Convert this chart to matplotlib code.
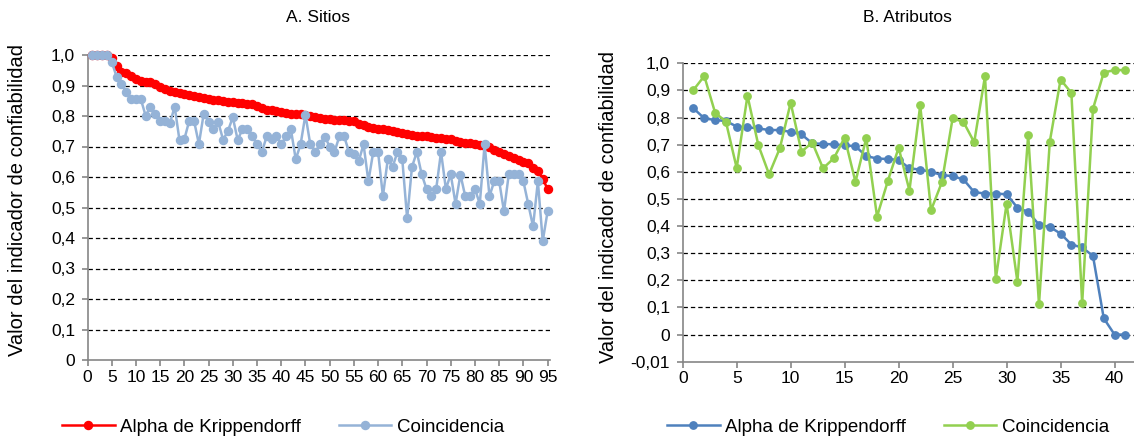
import numpy as np
import matplotlib
matplotlib.use('Agg')
import matplotlib.pyplot as plt
from matplotlib.ticker import FixedLocator, FixedFormatter

plt.rcParams['font.family'] = ['Liberation Sans', 'DejaVu Sans']

# A. Sitios (95 sitios)
sitios_alpha = [
    1.0, 1.0, 1.0, 1.0, 0.99, 0.965, 0.945, 0.94, 0.93, 0.92,
    0.915, 0.913, 0.91, 0.905, 0.895, 0.888, 0.883, 0.878, 0.875, 0.872,
    0.868, 0.865, 0.862, 0.859, 0.856, 0.853, 0.851, 0.849, 0.847, 0.845,
    0.843, 0.842, 0.840, 0.839, 0.834, 0.826, 0.821, 0.819, 0.817, 0.814,
    0.811, 0.808, 0.806, 0.805, 0.802, 0.799, 0.797, 0.794, 0.791, 0.789,
    0.788, 0.787, 0.786, 0.785, 0.783, 0.774, 0.769, 0.765, 0.762, 0.759,
    0.757, 0.754, 0.751, 0.748, 0.745, 0.742, 0.739, 0.736, 0.735, 0.733,
    0.732, 0.729, 0.727, 0.725, 0.723, 0.719, 0.716, 0.713, 0.710, 0.707,
    0.704, 0.702, 0.697, 0.687, 0.682, 0.676, 0.668, 0.662, 0.655, 0.650,
    0.645, 0.630, 0.620, 0.595, 0.560,
]
sitios_coinc = [
    1.0, 1.0, 1.0, 1.0, 0.978, 0.929, 0.904, 0.880, 0.856, 0.856,
    0.856, 0.801, 0.830, 0.807, 0.782, 0.782, 0.776, 0.830, 0.720, 0.724,
    0.784, 0.784, 0.708, 0.808, 0.781, 0.756, 0.780, 0.722, 0.751, 0.796,
    0.722, 0.756, 0.756, 0.733, 0.707, 0.682, 0.733, 0.725, 0.733, 0.707,
    0.733, 0.756, 0.658, 0.707, 0.804, 0.707, 0.682, 0.707, 0.732, 0.700,
    0.682, 0.733, 0.733, 0.682, 0.677, 0.652, 0.707, 0.586, 0.682, 0.682,
    0.537, 0.658, 0.633, 0.682, 0.658, 0.464, 0.633, 0.682, 0.609, 0.561,
    0.537, 0.561, 0.682, 0.561, 0.609, 0.512, 0.608, 0.537, 0.537, 0.561,
    0.512, 0.707, 0.537, 0.587, 0.587, 0.487, 0.611, 0.611, 0.611, 0.586,
    0.512, 0.438, 0.586, 0.390, 0.487,
]

# B. Atributos (41 atributos)
atrib_alpha = [
    0.834, 0.797, 0.791, 0.787, 0.767, 0.764, 0.760, 0.754, 0.754, 0.747,
    0.738, 0.705, 0.703, 0.701, 0.698, 0.694, 0.658, 0.649, 0.647, 0.644,
    0.613, 0.608, 0.600, 0.588, 0.584, 0.572, 0.525, 0.520, 0.520, 0.517,
    0.468, 0.452, 0.405, 0.397, 0.372, 0.332, 0.321, 0.290, 0.060, 0.0,
    0.0,
]
atrib_coinc = [
    0.902, 0.953, 0.818, 0.785, 0.614, 0.881, 0.699, 0.591, 0.687, 0.855,
    0.674, 0.708, 0.613, 0.650, 0.726, 0.563, 0.724, 0.435, 0.566, 0.689,
    0.531, 0.845, 0.458, 0.561, 0.797, 0.784, 0.709, 0.953, 0.205, 0.483,
    0.195, 0.736, 0.111, 0.711, 0.940, 0.891, 0.115, 0.832, 0.966, 0.975,
    0.975,
]

left_yticks = [0, 0.1, 0.2, 0.3, 0.4, 0.5, 0.6, 0.7, 0.8, 0.9, 1.0]
left_ylabels = ['0', '0,1', '0,2', '0,3', '0,4', '0,5', '0,6', '0,7', '0,8', '0,9', '1,0']
right_yticks = [-0.1, 0, 0.1, 0.2, 0.3, 0.4, 0.5, 0.6, 0.7, 0.8, 0.9, 1.0]
right_ylabels = ['-0,01', '0', '0,1', '0,2', '0,3', '0,4', '0,5', '0,6', '0,7', '0,8', '0,9', '1,0']

W, H = 1134, 442
fig = plt.figure(figsize=(W / 100, H / 100), dpi=100)


def px_axes(x0, y_top, x1, y_bot):
    return fig.add_axes([x0 / W, 1 - y_bot / H, (x1 - x0) / W, (y_bot - y_top) / H])


def style_axes(ax, yticks, ylabels):
    for s in ['top', 'right']:
        ax.spines[s].set_visible(False)
    for s in ['left', 'bottom']:
        ax.spines[s].set_color('#868686')
        ax.spines[s].set_linewidth(1.2)
    ax.yaxis.set_major_locator(FixedLocator(yticks))
    ax.yaxis.set_major_formatter(FixedFormatter(ylabels))
    ax.tick_params(axis='both', labelsize=12.5, colors='#868686', labelcolor='black',
                   length=4, width=1.2, direction='out')
    ax.tick_params(axis='y', pad=5)
    ax.tick_params(axis='x', pad=3)
    for y in yticks[1:]:
        ax.axhline(y, color='black', lw=0.9, ls=(0, (3.5, 2.4)), zorder=1)


leg_kw = dict(loc='center', ncol=2, frameon=False, fontsize=13.5, handlelength=2.8,
              handletextpad=0.3, columnspacing=2.0, numpoints=1)

# ---- A. Sitios
ax1 = px_axes(87.5, 55, 550, 360)
x1 = np.arange(1, len(sitios_alpha) + 1)
ax1.plot(x1, sitios_alpha, color='#FF0000', lw=1.8, marker='o', ms=5.8,
         label='Alpha de Krippendorff', zorder=3, clip_on=False)
ax1.plot(x1, sitios_coinc, color='#95B3D7', lw=1.8, marker='o', ms=5.8,
         label='Coincidencia', zorder=4, clip_on=False)
ax1.set_xlim(0, 95.5)
ax1.set_ylim(0, 1.0)
ax1.set_xticks(np.arange(0, 96, 5))
style_axes(ax1, left_yticks, left_ylabels)
ax1.legend(bbox_to_anchor=(283 / W, 1 - 427 / H), bbox_transform=fig.transFigure, **leg_kw)

# ---- B. Atributos
ax2 = px_axes(682.7, 63.3, 1134, 361.7)
x2 = np.arange(1, len(atrib_alpha) + 1)
ax2.plot(x2, atrib_alpha, color='#4F81BD', lw=1.8, marker='o', ms=5.3,
         label='Alpha de Krippendorff', zorder=3, clip_on=False)
ax2.plot(x2, atrib_coinc, color='#92D050', lw=1.8, marker='o', ms=5.3,
         label='Coincidencia', zorder=4, clip_on=False)
ax2.set_xlim(0, 41.8)
ax2.set_ylim(-0.1, 1.0)
ax2.set_xticks(np.arange(0, 41, 5))
style_axes(ax2, right_yticks, right_ylabels)
ax2.legend(bbox_to_anchor=(888 / W, 1 - 427 / H), bbox_transform=fig.transFigure, **leg_kw)

# titles and axis labels
fig.text(318 / W, 1 - 18 / H, 'A. Sitios', ha='center', va='center', fontsize=12.5)
fig.text(907 / W, 1 - 18 / H, 'B. Atributos', ha='center', va='center', fontsize=12.5)
fig.text(18 / W, 1 - 200 / H, 'Valor del indicador de confiabilidad', rotation=90,
         ha='center', va='center', fontsize=14.5)
fig.text(608 / W, 1 - 207 / H, 'Valor del indicador de confiabilidad', rotation=90,
         ha='center', va='center', fontsize=14.5)

fig.savefig('out.png', dpi=100)
